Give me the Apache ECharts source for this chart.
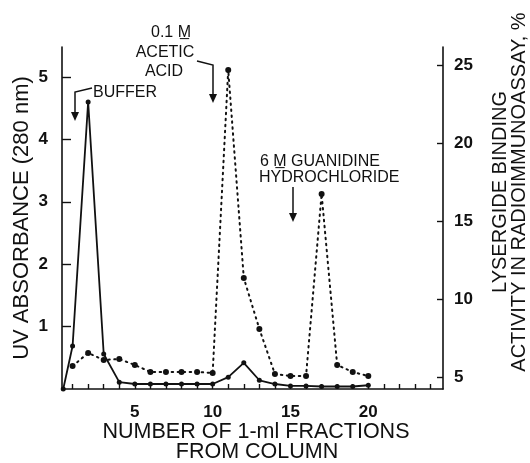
<!DOCTYPE html>
<html>
<head>
<meta charset="utf-8">
<script src="https://cdn.jsdelivr.net/npm/echarts/dist/echarts.min.js"></script>
<style>
  html, body { margin: 0; padding: 0; background: #fff; }
  #main { width: 530px; height: 463px; }
</style>
</head>
<body>
<div id="main"></div>
<script>
// fraction number (1-ml fractions from column)
const uvFractions = [0.4, 1, 2, 3, 4, 5, 6, 7, 8, 9, 10, 11, 12, 13, 14, 15, 16, 17, 18, 19, 20]
// UV absorbance at 280 nm (left axis)
const uvValues = [0, 0.69, 4.6, 0.56, 0.11, 0.08, 0.08, 0.08, 0.08, 0.08, 0.08, 0.19, 0.42, 0.14, 0.08, 0.05, 0.05, 0.04, 0.04, 0.04, 0.06]

const bindFractions = [1, 2, 3, 4, 5, 6, 7, 8, 9, 10, 11, 12, 13, 14, 15, 16, 17, 18, 19, 20]
// lysergide binding activity, % (right axis)
const bindValues = [5.7, 6.54, 6.09, 6.15, 5.77, 5.32, 5.32, 5.32, 5.32, 5.26, 24.68, 11.35, 8.08, 5.19, 5.06, 5.06, 16.73, 5.77, 5.32, 5.06]

const xTicks = [1, 2, 3, 4, 5, 6, 7, 8, 9, 10, 11, 12, 13, 14, 15, 16, 17, 18, 19, 20, 21, 22, 23, 24]
const xLabels = [5, 10, 15, 20]
const uvTicks = [1, 2, 3, 4, 5]
const bindTicks = [5, 10, 15, 20, 25]

const font = 'Liberation Sans, Arial, Helvetica, sans-serif'
const ink = '#111'

let chart = echarts.init(document.getElementById('main'))

let tickLabel = {
    color: ink,
    fontFamily: font,
    fontWeight: 'bold',
    fontSize: 17,
}

let option = {
    backgroundColor: '#fff',
    animation: false,
    grid: { left: 62, right: 87, top: 47, bottom: 74 },
    xAxis: {
        type: 'value',
        min: 0.32,
        max: 24.8,
        splitLine: { show: false },
        axisLine: { lineStyle: { color: ink, width: 1.6 } },
        axisTick: { inside: true, length: 5, customValues: xTicks, lineStyle: { color: ink, width: 1.4 } },
        axisLabel: Object.assign({ customValues: xLabels, margin: 15 }, tickLabel),
    },
    yAxis: [
        {
            type: 'value',
            position: 'left',
            min: 0,
            max: 5.48,
            splitLine: { show: false },
            axisLine: { show: true, lineStyle: { color: ink, width: 1.6 } },
            axisTick: { show: true, inside: true, length: 9, customValues: uvTicks, lineStyle: { color: ink, width: 1.4 } },
            axisLabel: Object.assign({ customValues: uvTicks, margin: 14 }, tickLabel),
        },
        {
            type: 'value',
            position: 'right',
            min: 4.23,
            max: 26.15,
            splitLine: { show: false },
            axisLine: { show: true, lineStyle: { color: ink, width: 1.6 } },
            axisTick: { show: true, inside: true, length: 6, customValues: bindTicks, lineStyle: { color: ink, width: 1.4 } },
            axisLabel: Object.assign({ customValues: bindTicks, margin: 11 }, tickLabel),
        },
    ],
    series: [
        {
            name: 'UV',
            type: 'line',
            yAxisIndex: 0,
            data: uvFractions.map((f, i) => [f, uvValues[i]]),
            symbol: 'circle',
            symbolSize: 5,
            showAllSymbol: true,
            itemStyle: { color: ink },
            lineStyle: { color: ink, width: 1.8 },
        },
        {
            name: 'binding',
            type: 'line',
            yAxisIndex: 1,
            data: bindFractions.map((f, i) => [f, bindValues[i]]),
            symbol: 'circle',
            symbolSize: 6,
            showAllSymbol: true,
            itemStyle: { color: ink },
            lineStyle: { color: ink, width: 2, type: [1.5, 4.5], cap: 'round' },
        },
    ],
    graphic: [
        // axis titles
        { type: 'text', x: 22, y: 218, rotation: Math.PI / 2,
          style: { text: 'UV ABSORBANCE (280 nm)', font: '22px ' + font, fill: ink, textAlign: 'center', textVerticalAlign: 'middle' } },
        { type: 'text', x: 500, y: 192, rotation: Math.PI / 2,
          style: { text: 'LYSERGIDE BINDING', font: '20px ' + font, fill: ink, textAlign: 'center', textVerticalAlign: 'middle' } },
        { type: 'text', x: 519, y: 192, rotation: Math.PI / 2,
          style: { text: 'ACTIVITY IN RADIOIMMUNOASSAY, %', font: '20px ' + font, fill: ink, textAlign: 'center', textVerticalAlign: 'middle' } },
        { type: 'text', x: 256, y: 432,
          style: { text: 'NUMBER OF 1-ml FRACTIONS', font: '21.5px ' + font, fill: ink, textAlign: 'center', textVerticalAlign: 'middle' } },
        { type: 'text', x: 257, y: 452,
          style: { text: 'FROM COLUMN', font: '21.5px ' + font, fill: ink, textAlign: 'center', textVerticalAlign: 'middle' } },

        // BUFFER
        { type: 'text', x: 93, y: 93,
          style: { text: 'BUFFER', font: '16px ' + font, fill: ink, textAlign: 'left', textVerticalAlign: 'middle' } },
        { type: 'polyline', shape: { points: [[92, 88], [75, 92], [75, 115]] }, style: { stroke: ink, lineWidth: 1.5, fill: null } },
        { type: 'polygon', shape: { points: [[71, 112], [79, 112], [75, 121]] }, style: { fill: ink } },

        // 0.1 M acetic acid
        { type: 'text', x: 171, y: 33,
          style: { text: '0.1 M\u0332', font: '16px ' + font, fill: ink, textAlign: 'center', textVerticalAlign: 'middle' } },
        { type: 'text', x: 165, y: 53,
          style: { text: 'ACETIC', font: '16px ' + font, fill: ink, textAlign: 'center', textVerticalAlign: 'middle' } },
        { type: 'text', x: 164, y: 72,
          style: { text: 'ACID', font: '16px ' + font, fill: ink, textAlign: 'center', textVerticalAlign: 'middle' } },
        { type: 'polyline', shape: { points: [[197, 61], [213, 65], [213, 96]] }, style: { stroke: ink, lineWidth: 1.5, fill: null } },
        { type: 'polygon', shape: { points: [[209, 94], [217, 94], [213, 103]] }, style: { fill: ink } },

        // 6 M guanidine hydrochloride
        { type: 'text', x: 260, y: 162,
          style: { text: '6 M\u0332 GUANIDINE', font: '16px ' + font, fill: ink, textAlign: 'left', textVerticalAlign: 'middle' } },
        { type: 'text', x: 259, y: 178,
          style: { text: 'HYDROCHLORIDE', font: '16px ' + font, fill: ink, textAlign: 'left', textVerticalAlign: 'middle' } },
        { type: 'polyline', shape: { points: [[293, 187], [293, 215]] }, style: { stroke: ink, lineWidth: 1.5, fill: null } },
        { type: 'polygon', shape: { points: [[289, 213], [297, 213], [293, 222]] }, style: { fill: ink } },
    ],
}

chart.setOption(option)
</script>
</body>
</html>
